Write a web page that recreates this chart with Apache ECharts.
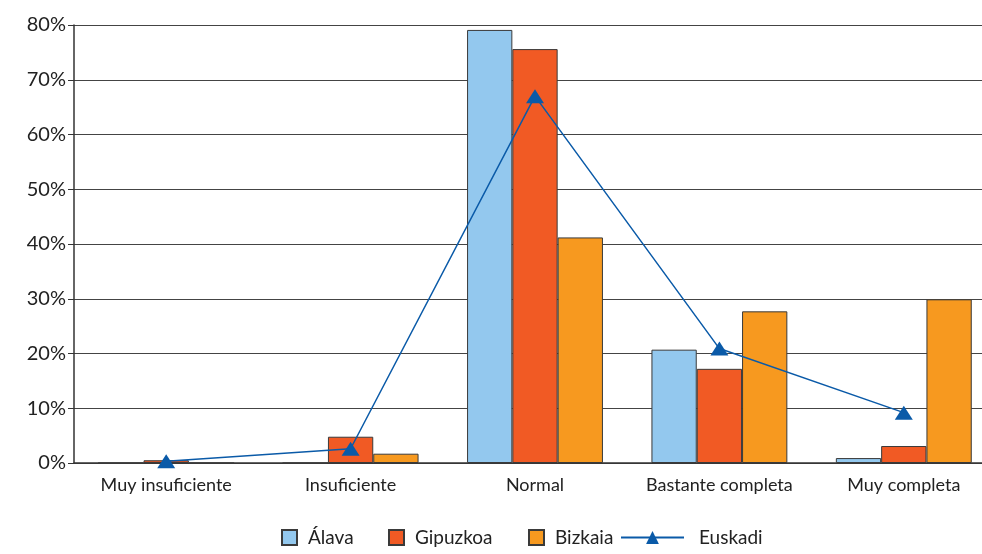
<!DOCTYPE html>
<html><head><meta charset="utf-8">
<script src="https://cdn.jsdelivr.net/npm/echarts@6/dist/echarts.min.js"></script>
<style>html,body{margin:0;padding:0;background:#fff}#c{width:982px;height:554px}</style>
</head><body><div id="c"></div>
<script>
const categories = ['Muy insuficiente','Insuficiente','Normal','Bastante completa','Muy completa'];
const alava    = [0, 0, 79.1, 20.7, 0.9];
const gipuzkoa = [0.5, 4.8, 75.6, 17.2, 3.1];
const bizkaia  = [0, 1.7, 41.2, 27.7, 29.9];
const euskadi  = [0.3, 2.6, 67.0, 20.9, 9.2];
const yTicks = [0,10,20,30,40,50,60,70,80];

const font = 'Lato, "Open Sans", sans-serif';
const chart = echarts.init(document.getElementById('c'));
const barStyle = c => ({color: c, borderColor: '#3a3a3a', borderWidth: 1});
const legTxt = {fontFamily: font, fontSize: 19, color: '#222', padding: [0,0,0,6]};
const sq = (name, left) => ({bottom: 2, left, itemWidth: 15, itemHeight: 15, icon: 'rect',
  textStyle: legTxt, data: [name]});
chart.setOption({
  animation: false,
  grid: {left: 74, top: 25, bottom: 91, width: 922, containLabel: false, outerBoundsMode: 'none'},
  legend: [sq('Álava', 276), sq('Gipuzkoa', 383), sq('Bizkaia', 523), {
    bottom: 2, left: 615, itemWidth: 63, itemHeight: 16,
    textStyle: {fontFamily: font, fontSize: 19, color: '#222', padding: [0,0,0,10]},
    data: ['Euskadi']
  }],
  xAxis: {
    type: 'category', data: categories,
    axisLine: {lineStyle: {color: '#333', width: 1.5}},
    axisTick: {show: false},
    axisLabel: {fontFamily: font, fontSize: 18, color: '#222', margin: 13, interval: 0}
  },
  yAxis: {
    type: 'value', min: 0, max: 80, interval: 10,
    axisLine: {show: true, lineStyle: {color: '#333', width: 1.5}},
    axisTick: {show: true, length: 6, lineStyle: {color: '#333'}},
    splitLine: {lineStyle: {color: '#444', width: 1.2}},
    axisLabel: {fontFamily: font, fontSize: 20, color: '#222', margin: 8,
      formatter: v => yTicks.includes(v) ? v + '%' : ''}
  },
  series: [
    {name: 'Álava', type: 'bar', data: alava, barGap: 0, barCategoryGap: '26.3%', itemStyle: barStyle('#93c8ee')},
    {name: 'Gipuzkoa', type: 'bar', data: gipuzkoa, itemStyle: barStyle('#f15a24')},
    {name: 'Bizkaia', type: 'bar', data: bizkaia, itemStyle: barStyle('#f7991f')},
    {name: 'Euskadi', type: 'line', data: euskadi, symbol: 'triangle', symbolSize: [18,14],
      lineStyle: {color: '#0a5aa8', width: 1.5}, itemStyle: {color: '#0a5aa8'}, z: 5}
  ]
});
</script></body></html>
